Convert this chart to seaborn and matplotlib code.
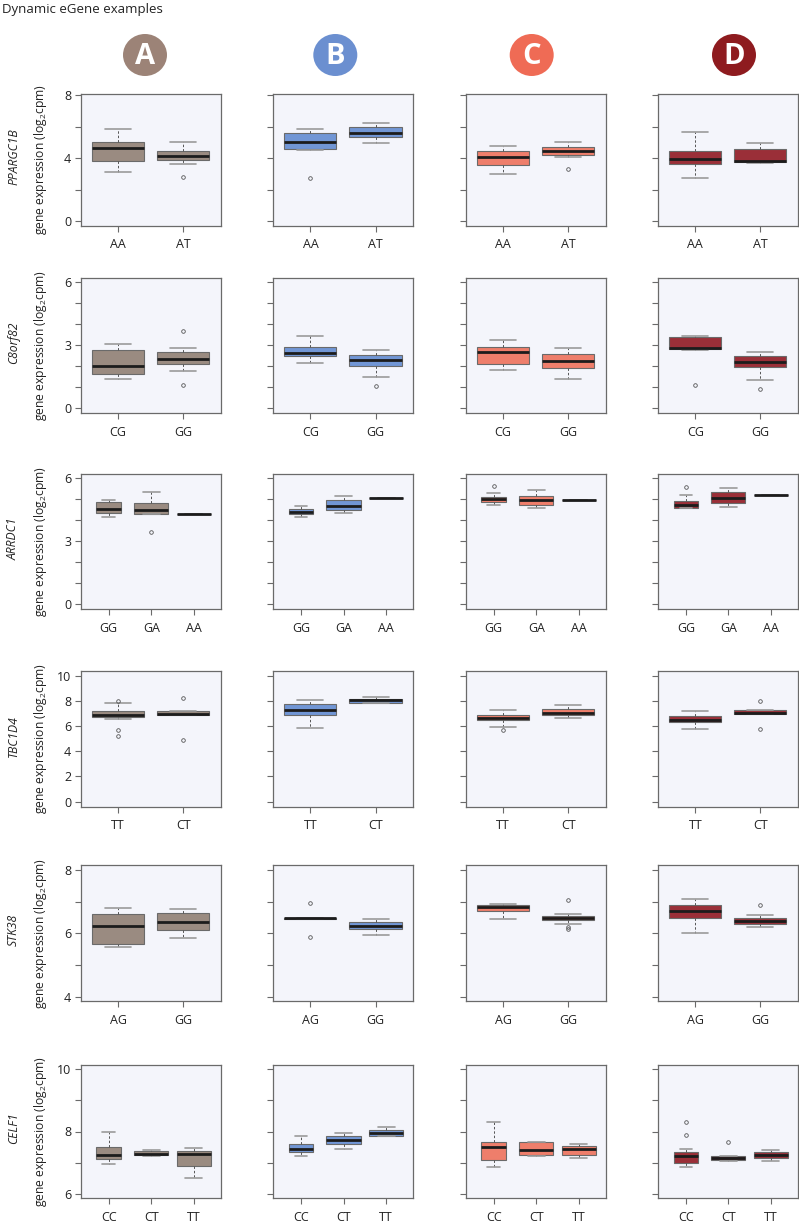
import numpy as np
import pandas as pd
import matplotlib
matplotlib.use("Agg")
import matplotlib.pyplot as plt
from matplotlib.patches import Ellipse
import seaborn as sns

# ---------------- data ----------------
COLUMNS = ["A", "B", "C", "D"]
GENES = ["PPARGC1B", "C8orf82", "ARRDC1", "TBC1D4", "STK38", "CELF1"]

GENOTYPES = {
    "PPARGC1B": ["AA", "AT"],
    "C8orf82": ["CG", "GG"],
    "ARRDC1": ["GG", "GA", "AA"],
    "TBC1D4": ["TT", "CT"],
    "STK38": ["AG", "GG"],
    "CELF1": ["CC", "CT", "TT"],
}

PPARGC1B = {
    "A": [[3.14, 3.5, 3.84, 4.3, 4.64, 4.8, 5.0, 5.4, 5.86],
          [2.82, 3.6, 3.86, 4.0, 4.15, 4.3, 4.47, 4.8, 5.04]],
    "B": [[2.72, 4.51, 4.56, 4.8, 5.02, 5.3, 5.61, 5.7, 5.82],
          [4.94, 5.1, 5.34, 5.5, 5.61, 5.8, 5.99, 6.1, 6.2]],
    "C": [[3.0, 3.3, 3.56, 3.8, 4.06, 4.2, 4.44, 4.6, 4.76],
          [3.3, 4.1, 4.2, 4.35, 4.45, 4.55, 4.7, 4.85, 5.0]],
    "D": [[2.72, 3.2, 3.6, 3.8, 3.92, 4.2, 4.45, 5.0, 5.63],
          [3.67, 3.7, 3.73, 3.8, 3.84, 4.2, 4.58, 4.8, 4.96]],
}
C8ORF82 = {
    "A": [[1.38, 1.5, 1.63, 1.8, 2.01, 2.4, 2.76, 2.9, 3.06],
          [1.10, 1.79, 2.10, 2.2, 2.36, 2.5, 2.70, 2.89, 3.67]],
    "B": [[2.15, 2.3, 2.5, 2.6, 2.65, 2.8, 2.9, 3.2, 3.45],
          [1.08, 1.49, 2.0, 2.15, 2.3, 2.45, 2.55, 2.65, 2.78]],
    "C": [[1.8, 1.95, 2.1, 2.4, 2.7, 2.8, 2.9, 3.1, 3.25],
          [1.4, 1.65, 1.9, 2.1, 2.25, 2.4, 2.6, 2.75, 2.85]],
    "D": [[1.1, 2.75, 2.8, 2.82, 2.85, 3.1, 3.4, 3.42, 3.45],
          [0.9, 1.35, 1.95, 2.1, 2.2, 2.35, 2.5, 2.6, 2.7]],
}
ARRDC1 = {
    "A": [[4.14, 4.25, 4.35, 4.45, 4.53, 4.7, 4.85, 4.9, 4.98],
          [3.45, 4.28, 4.32, 4.4, 4.49, 4.6, 4.80, 5.1, 5.36],
          [4.28]],
    "B": [[4.15, 4.2, 4.3, 4.35, 4.4, 4.5, 4.55, 4.6, 4.7],
          [4.35, 4.4, 4.5, 4.6, 4.7, 4.8, 4.95, 5.05, 5.15],
          [5.05]],
    "C": [[4.75, 4.8, 4.85, 4.95, 5.0, 5.05, 5.12, 5.3, 5.62],
          [4.6, 4.7, 4.75, 4.85, 4.95, 5.05, 5.15, 5.3, 5.45],
          [4.97]],
    "D": [[4.58, 4.59, 4.6, 4.7, 4.75, 4.8, 4.9, 5.2, 5.6],
          [4.65, 4.7, 4.8, 4.95, 5.05, 5.2, 5.35, 5.45, 5.55],
          [5.2]],
}
TBC1D4 = {
    "A": [[5.24, 5.71, 6.56, 6.69, 6.75, 6.8, 6.88, 7.0, 7.1, 7.17, 7.5, 7.86, 8.02],
          [4.87, 6.88, 6.88, 6.92, 6.98, 7.1, 7.22, 7.22, 8.2]],
    "B": [[5.85, 6.4, 6.9, 7.1, 7.3, 7.5, 7.75, 7.9, 8.05],
          [7.8, 7.82, 7.85, 7.95, 8.05, 8.1, 8.15, 8.2, 8.3]],
    "C": [[5.7, 5.9, 6.45, 6.55, 6.62, 6.75, 6.85, 7.05, 7.25],
          [6.65, 6.75, 6.85, 6.95, 7.05, 7.2, 7.35, 7.5, 7.65]],
    "D": [[5.75, 6.0, 6.3, 6.4, 6.5, 6.65, 6.8, 7.0, 7.2],
          [5.8, 6.95, 6.95, 7.0, 7.05, 7.2, 7.3, 7.3, 8.0]],
}
STK38 = {
    "A": [[5.58, 5.6, 5.68, 6.0, 6.25, 6.4, 6.61, 6.7, 6.82],
          [5.85, 6.0, 6.10, 6.25, 6.37, 6.5, 6.64, 6.7, 6.78]],
    "B": [[5.9, 6.45, 6.45, 6.47, 6.48, 6.49, 6.5, 6.5, 6.95],
          [5.95, 6.05, 6.15, 6.2, 6.25, 6.3, 6.35, 6.4, 6.45]],
    "C": [[6.45, 6.6, 6.7, 6.78, 6.83, 6.87, 6.9, 6.91, 6.92],
          [6.15, 6.2, 6.3, 6.42, 6.45, 6.46, 6.48, 6.5, 6.52, 6.55, 6.6, 6.62, 7.05]],
    "D": [[6.0, 6.3, 6.5, 6.6, 6.7, 6.8, 6.9, 7.0, 7.1],
          [6.2, 6.25, 6.3, 6.35, 6.4, 6.45, 6.5, 6.6, 6.9]],
}
CELF1 = {
    "A": [[6.97, 7.05, 7.11, 7.2, 7.25, 7.4, 7.49, 7.7, 8.0],
          [7.2, 7.22, 7.24, 7.27, 7.29, 7.33, 7.38, 7.39, 7.4],
          [6.52, 6.7, 6.9, 7.1, 7.28, 7.32, 7.37, 7.42, 7.46]],
    "B": [[7.2, 7.3, 7.35, 7.4, 7.45, 7.5, 7.6, 7.75, 7.85],
          [7.45, 7.5, 7.6, 7.65, 7.72, 7.8, 7.85, 7.9, 7.95],
          [7.85, 7.86, 7.87, 7.9, 7.95, 8.0, 8.05, 8.1, 8.15]],
    "C": [[6.85, 7.0, 7.1, 7.3, 7.5, 7.6, 7.65, 8.0, 8.3],
          [7.2, 7.22, 7.25, 7.3, 7.4, 7.5, 7.65, 7.65, 7.65],
          [7.15, 7.2, 7.25, 7.35, 7.45, 7.5, 7.55, 7.58, 7.6]],
    "D": [[6.85, 6.9, 6.95, 7.0, 7.1, 7.15, 7.2, 7.25, 7.3, 7.35, 7.45, 7.9, 8.3],
          [7.05, 7.08, 7.1, 7.12, 7.15, 7.17, 7.2, 7.2, 7.65],
          [7.05, 7.1, 7.15, 7.2, 7.25, 7.3, 7.35, 7.38, 7.4]],
}
DATA = {"PPARGC1B": PPARGC1B, "C8orf82": C8ORF82, "ARRDC1": ARRDC1,
        "TBC1D4": TBC1D4, "STK38": STK38, "CELF1": CELF1}

YTICKS = {
    "PPARGC1B": ([0, 2, 4, 6, 8], ["0", "", "4", "", "8"]),
    "C8orf82": ([0, 1, 2, 3, 4, 5, 6], ["0", "", "", "3", "", "", "6"]),
    "ARRDC1": ([0, 1, 2, 3, 4, 5, 6], ["0", "", "", "3", "", "", "6"]),
    "TBC1D4": ([0, 2, 4, 6, 8, 10], ["0", "2", "4", "6", "8", "10"]),
    "STK38": ([4, 5, 6, 7, 8], ["4", "", "6", "", "8"]),
    "CELF1": ([6, 7, 8, 9, 10], ["6", "", "8", "", "10"]),
}
YLIMS = {
    "PPARGC1B": (-0.28, 8.06),
    "C8orf82": (-0.24, 6.2),
    "ARRDC1": (-0.25, 6.22),
    "TBC1D4": (-0.4, 10.37),
    "STK38": (3.85, 8.16),
    "CELF1": (5.86, 10.14),
}
# box widths per genotype position (2- and 3-genotype panels)
BOX_WIDTHS = {2: [0.8, 0.8], 3: [0.58, 0.8, 0.8]}

CIRCLE_COLORS = ["#9C8377", "#6B8FD0", "#EF6B55", "#8E1B1F"]
BOX_COLORS = ["#9A8B81", "#7196D5", "#EE7E6B", "#9A2F38"]

# ---------------- layout (pixels) ----------------
W, H = 799, 1222
COL_LEFT = [81, 273.3, 466, 658.2]
PANEL_W = 140
ROW_TOP = [94, 278, 473.7, 671, 865.3, 1064.7]
ROW_BOT = [225.7, 413.3, 609.3, 806.7, 1001.3, 1198.3]
CIRCLE_X = [145, 335.3, 531.7, 734]
CIRCLE_Y = 55

sns.set_theme(style="ticks")
plt.rcParams["font.family"] = ["Open Sans", "DejaVu Sans"]
plt.rcParams["mathtext.fontset"] = "custom"
plt.rcParams["mathtext.rm"] = "Open Sans"

fig = plt.figure(figsize=(W / 100, H / 100), dpi=100)
fig.patch.set_facecolor("white")

fig.text(2 / W, 1 - 9 / H, "Dynamic eGene examples", fontsize=9.5,
         ha="left", va="center", color="#222222")

# column badges
for c, col in enumerate(COLUMNS):
    cx, cy = CIRCLE_X[c] / W, 1 - CIRCLE_Y / H
    e = Ellipse((cx, cy), 44 / W, 42 / H, transform=fig.transFigure,
                facecolor=CIRCLE_COLORS[c], edgecolor="none")
    fig.add_artist(e)
    fig.text(cx, cy - 1 / H, col, fontsize=21, fontweight="bold", color="white",
             ha="center", va="center")

for r, gene in enumerate(GENES):
    genos = GENOTYPES[gene]
    top, bot = ROW_TOP[r], ROW_BOT[r]
    widths = BOX_WIDTHS[len(genos)]
    for c, col in enumerate(COLUMNS):
        groups = DATA[gene][col]
        ax = fig.add_axes([COL_LEFT[c] / W, 1 - bot / H, PANEL_W / W, (bot - top) / H])
        ax.set_facecolor("#F4F5FB")
        for g, vals, w in zip(genos, groups, widths):
            df = pd.DataFrame({"genotype": [g] * len(vals), "expr": vals})
            sns.boxplot(data=df, x="genotype", y="expr", order=genos, ax=ax,
                        color=BOX_COLORS[c], saturation=1, width=w,
                        linecolor="#5a5a5a", linewidth=0.8, fliersize=2.6,
                        medianprops=dict(color="#1c1c1c", linewidth=2.0),
                        whiskerprops=dict(color="#555555", linewidth=0.7,
                                          linestyle=(0, (2.5, 2))),
                        capprops=dict(color="#9a9a9a", linewidth=1.2),
                        flierprops=dict(marker="o", markerfacecolor="none",
                                        markeredgecolor="#555555",
                                        markeredgewidth=0.6),
                        boxprops=dict(edgecolor="#6a6a6a"))
        n = len(genos)
        if n == 2:
            ax.set_xlim(-0.57, 1.58)
        else:
            ax.set_xlim(-0.65, 2.64)
        ax.set_ylim(*YLIMS[gene])
        ticks, labels = YTICKS[gene]
        ax.set_yticks(ticks)
        if c == 0:
            ax.set_yticklabels(labels)
        else:
            ax.set_yticklabels([""] * len(ticks))
        ax.set_xlabel("")
        ax.set_ylabel("")
        for s in ax.spines.values():
            s.set_visible(True)
            s.set_color("#6a6a6a")
            s.set_linewidth(0.9)
        ax.tick_params(axis="both", length=4, width=0.8, color="#6a6a6a",
                       labelsize=9, labelcolor="#222222")
        ax.tick_params(axis="x", pad=5)
        ax.tick_params(axis="y", pad=3)

    yc = 1 - ((top + bot) / 2) / H
    fig.text(40.5 / W, yc, "gene expression (log$_2$cpm)", rotation=90,
             fontsize=8.7, ha="center", va="center", color="#222222")
    fig.text(13.5 / W, yc + 3 / H, gene, rotation=90, fontsize=8.7, style="italic",
             ha="center", va="center", color="#222222")

fig.savefig("out.png", dpi=100)
